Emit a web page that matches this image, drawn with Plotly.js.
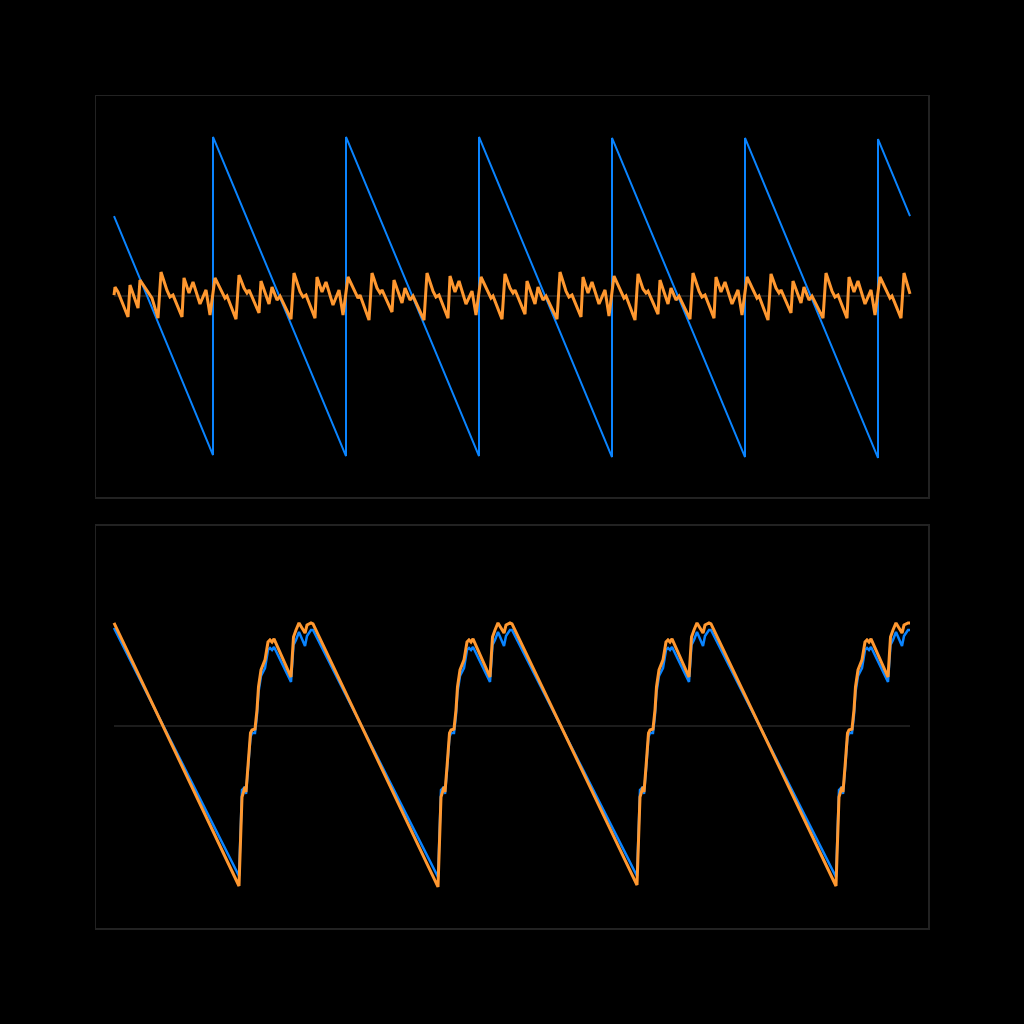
<!DOCTYPE html>
<html>
<head>
<meta charset="utf-8">
<script src="https://cdn.plot.ly/plotly-3.0.1.min.js"></script>
<style>html,body{margin:0;padding:0;background:#000;}#chart{width:1024px;height:1024px;}</style>
</head>
<body>
<div id="chart"></div>
<script>
// ---- Top panel: sawtooth (blue) and residual (orange) ----
const topBlueX = [0, 99, 99, 232, 232, 365, 365, 498, 498, 631, 631, 764, 764, 796];
const topBlueY = [0.5, -0.994, 0.994, -1.0, 0.994, -1.0, 0.994, -1.006, 0.988, -1.006, 0.988, -1.012, 0.981, 0.5];

const topOrangeX = [
  0, 1, 4, 14, 16, 24, 26, 38, 44,
  47, 53, 56, 59, 68, 70, 75, 79, 86, 92, 96, 101, 108, 111, 113, 122, 125, 130, 133, 135, 145, 147, 155, 158, 163, 166, 177,
  180, 186, 189, 192, 201, 203, 208, 212, 219, 225, 229, 234, 241, 244, 246, 255, 258, 263, 266, 268, 278, 280, 288, 291, 296, 299, 310,
  313, 319, 322, 325, 334, 336, 341, 345, 352, 358, 362, 367, 374, 377, 379, 388, 391, 396, 399, 401, 411, 413, 421, 424, 429, 432, 443,
  446, 452, 455, 458, 467, 469, 474, 478, 485, 491, 495, 500, 507, 510, 512, 521, 524, 529, 532, 534, 544, 546, 554, 557, 562, 565, 576,
  579, 585, 588, 591, 600, 602, 607, 611, 618, 624, 628, 633, 640, 643, 645, 654, 657, 662, 665, 667, 677, 679, 687, 690, 695, 698, 709,
  712, 718, 721, 724, 733, 735, 740, 744, 751, 757, 761, 766, 773, 776, 778, 787, 790, 796
];
const topOrangeY = [
  0.006, 0.056, 0.025, -0.131, 0.069, -0.075, 0.1, -0.013, -0.138,
  0.15, 0.035, -0.006, 0.006, -0.131, 0.113, 0.019, 0.088, -0.05, 0.038, -0.119, 0.113, 0.025, -0.013, 0.0, -0.144, 0.131, 0.05, 0.019, 0.038, -0.106, 0.094, -0.05, 0.056, -0.025, 0.0, -0.144,
  0.144, 0.028, -0.006, 0.006, -0.138, 0.119, 0.025, 0.088, -0.056, 0.038, -0.119, 0.119, 0.025, -0.013, 0.006, -0.15, 0.144, 0.05, 0.019, 0.038, -0.1, 0.1, -0.044, 0.05, -0.025, 0.0, -0.15,
  0.144, 0.031, -0.006, 0.006, -0.138, 0.125, 0.025, 0.094, -0.05, 0.031, -0.119, 0.119, 0.025, -0.013, 0.0, -0.144, 0.138, 0.05, 0.019, 0.038, -0.113, 0.094, -0.05, 0.056, -0.025, 0.0, -0.144,
  0.15, 0.031, -0.006, 0.006, -0.131, 0.119, 0.019, 0.088, -0.05, 0.038, -0.125, 0.125, 0.025, -0.013, 0.0, -0.15, 0.138, 0.044, 0.019, 0.031, -0.113, 0.1, -0.05, 0.05, -0.025, 0.0, -0.144,
  0.144, 0.031, -0.006, 0.006, -0.138, 0.119, 0.025, 0.088, -0.05, 0.038, -0.119, 0.119, 0.031, -0.013, 0.0, -0.15, 0.138, 0.05, 0.019, 0.038, -0.106, 0.094, -0.044, 0.056, -0.025, 0.0, -0.138,
  0.144, 0.031, -0.006, 0.006, -0.138, 0.119, 0.025, 0.094, -0.05, 0.038, -0.119, 0.119, 0.025, -0.013, 0.0, -0.138, 0.144, 0.013
];

// ---- Bottom panel: two reconstructions ----
const botBlueX = [
  0, 125, 128, 131, 132, 134, 136.5, 138, 141, 143, 144.5, 147, 149.5, 151, 154, 156, 158, 160, 177, 179.5, 182, 185, 191, 193, 197, 199,
  324, 327, 330, 331, 333, 335.5, 337, 340, 342, 343.5, 346, 348.5, 350, 353, 355, 357, 359, 376, 378.5, 381, 384, 390, 392, 396, 398,
  523, 526, 529, 530, 532, 534.5, 536, 539, 541, 542.5, 545, 547.5, 549, 552, 554, 556, 558, 575, 577.5, 580, 583, 589, 591, 595, 597,
  722, 725, 728, 729, 731, 733.5, 735, 738, 740, 741.5, 744, 746.5, 748, 751, 753, 755, 757, 774, 776.5, 779, 782, 788, 790, 794, 796
];
const botBlueY = [
  0.6125, -0.9375, -0.4, -0.381, -0.425, -0.275, -0.069, -0.044, -0.044, 0.069, 0.2125, 0.3125, 0.35, 0.3625, 0.475, 0.4875, 0.475, 0.494, 0.275, 0.506, 0.5375, 0.5875, 0.5, 0.5625, 0.6, 0.6,
  -0.944, -0.4, -0.381, -0.425, -0.275, -0.069, -0.044, -0.044, 0.069, 0.2125, 0.3125, 0.35, 0.3625, 0.475, 0.4875, 0.475, 0.494, 0.275, 0.506, 0.5375, 0.5875, 0.5, 0.5625, 0.6, 0.6,
  -0.9375, -0.4, -0.381, -0.425, -0.275, -0.069, -0.044, -0.044, 0.069, 0.2125, 0.3125, 0.35, 0.3625, 0.475, 0.4875, 0.475, 0.494, 0.275, 0.506, 0.5375, 0.5875, 0.5, 0.5625, 0.6, 0.6,
  -0.944, -0.4, -0.381, -0.425, -0.275, -0.069, -0.044, -0.044, 0.069, 0.2125, 0.3125, 0.35, 0.3625, 0.475, 0.4875, 0.475, 0.494, 0.275, 0.506, 0.5375, 0.5875, 0.5, 0.5625, 0.6, 0.6
];
const botOrangeX = botBlueX;
const botOrangeY = [
  0.644, -1.0, -0.444, -0.381, -0.413, -0.256, -0.044, -0.025, -0.019, 0.1, 0.244, 0.35, 0.394, 0.413, 0.525, 0.538, 0.525, 0.544, 0.306, 0.556, 0.6, 0.644, 0.581, 0.631, 0.644, 0.638,
  -1.006, -0.444, -0.381, -0.413, -0.256, -0.044, -0.025, -0.019, 0.1, 0.244, 0.35, 0.394, 0.413, 0.525, 0.538, 0.525, 0.544, 0.306, 0.556, 0.6, 0.644, 0.581, 0.631, 0.644, 0.638,
  -0.994, -0.444, -0.381, -0.413, -0.256, -0.044, -0.025, -0.019, 0.1, 0.244, 0.35, 0.394, 0.413, 0.525, 0.538, 0.525, 0.544, 0.306, 0.556, 0.6, 0.644, 0.581, 0.631, 0.644, 0.638,
  -1.0, -0.444, -0.381, -0.413, -0.256, -0.044, -0.025, -0.019, 0.1, 0.244, 0.35, 0.394, 0.413, 0.525, 0.538, 0.525, 0.544, 0.306, 0.556, 0.6, 0.644, 0.581, 0.631, 0.644, 0.644
];

const BLUE = '#0a84ff';
const ORANGE = '#ff9830';
const FRAME = '#222222';
const ZERO = '#1c1c1c';

const traces = [
  {x: topBlueX, y: topBlueY, xaxis: 'x', yaxis: 'y', mode: 'lines', line: {color: BLUE, width: 2}, hoverinfo: 'skip'},
  {x: topOrangeX, y: topOrangeY, xaxis: 'x', yaxis: 'y', mode: 'lines', line: {color: ORANGE, width: 3}, hoverinfo: 'skip'},
  {x: botBlueX, y: botBlueY, xaxis: 'x2', yaxis: 'y2', mode: 'lines', line: {color: BLUE, width: 2.5}, hoverinfo: 'skip'},
  {x: botOrangeX, y: botOrangeY, xaxis: 'x2', yaxis: 'y2', mode: 'lines', line: {color: ORANGE, width: 3}, hoverinfo: 'skip'}
];

function ax(extra) {
  return Object.assign({
    showgrid: false, zeroline: false, showticklabels: false, ticks: '',
    showline: true, mirror: true, linecolor: FRAME, linewidth: 1.5
  }, extra);
}

const layout = {
  width: 1024, height: 1024,
  paper_bgcolor: '#000', plot_bgcolor: '#000',
  margin: {l: 96, r: 96, t: 96, b: 96},
  showlegend: false,
  xaxis: ax({range: [-18, 814], domain: [0, 1], anchor: 'y'}),
  yaxis: ax({range: [-1.256, 1.25], domain: [0.518, 1], anchor: 'x'}),
  xaxis2: ax({range: [-18, 814], domain: [0, 1], anchor: 'y2'}),
  yaxis2: ax({range: [-1.2625, 1.25], domain: [0, 0.4832], anchor: 'x2'}),
  shapes: [
    {type: 'line', xref: 'x', yref: 'y', x0: topOrangeX[0], x1: topOrangeX[topOrangeX.length - 1], y0: 0, y1: 0, line: {color: ZERO, width: 2}, layer: 'below'},
    {type: 'line', xref: 'x2', yref: 'y2', x0: botBlueX[0], x1: botBlueX[botBlueX.length - 1], y0: 0, y1: 0, line: {color: ZERO, width: 2}, layer: 'below'}
  ]
};

Plotly.newPlot('chart', traces, layout, {staticPlot: true, displayModeBar: false});
</script>
</body>
</html>
